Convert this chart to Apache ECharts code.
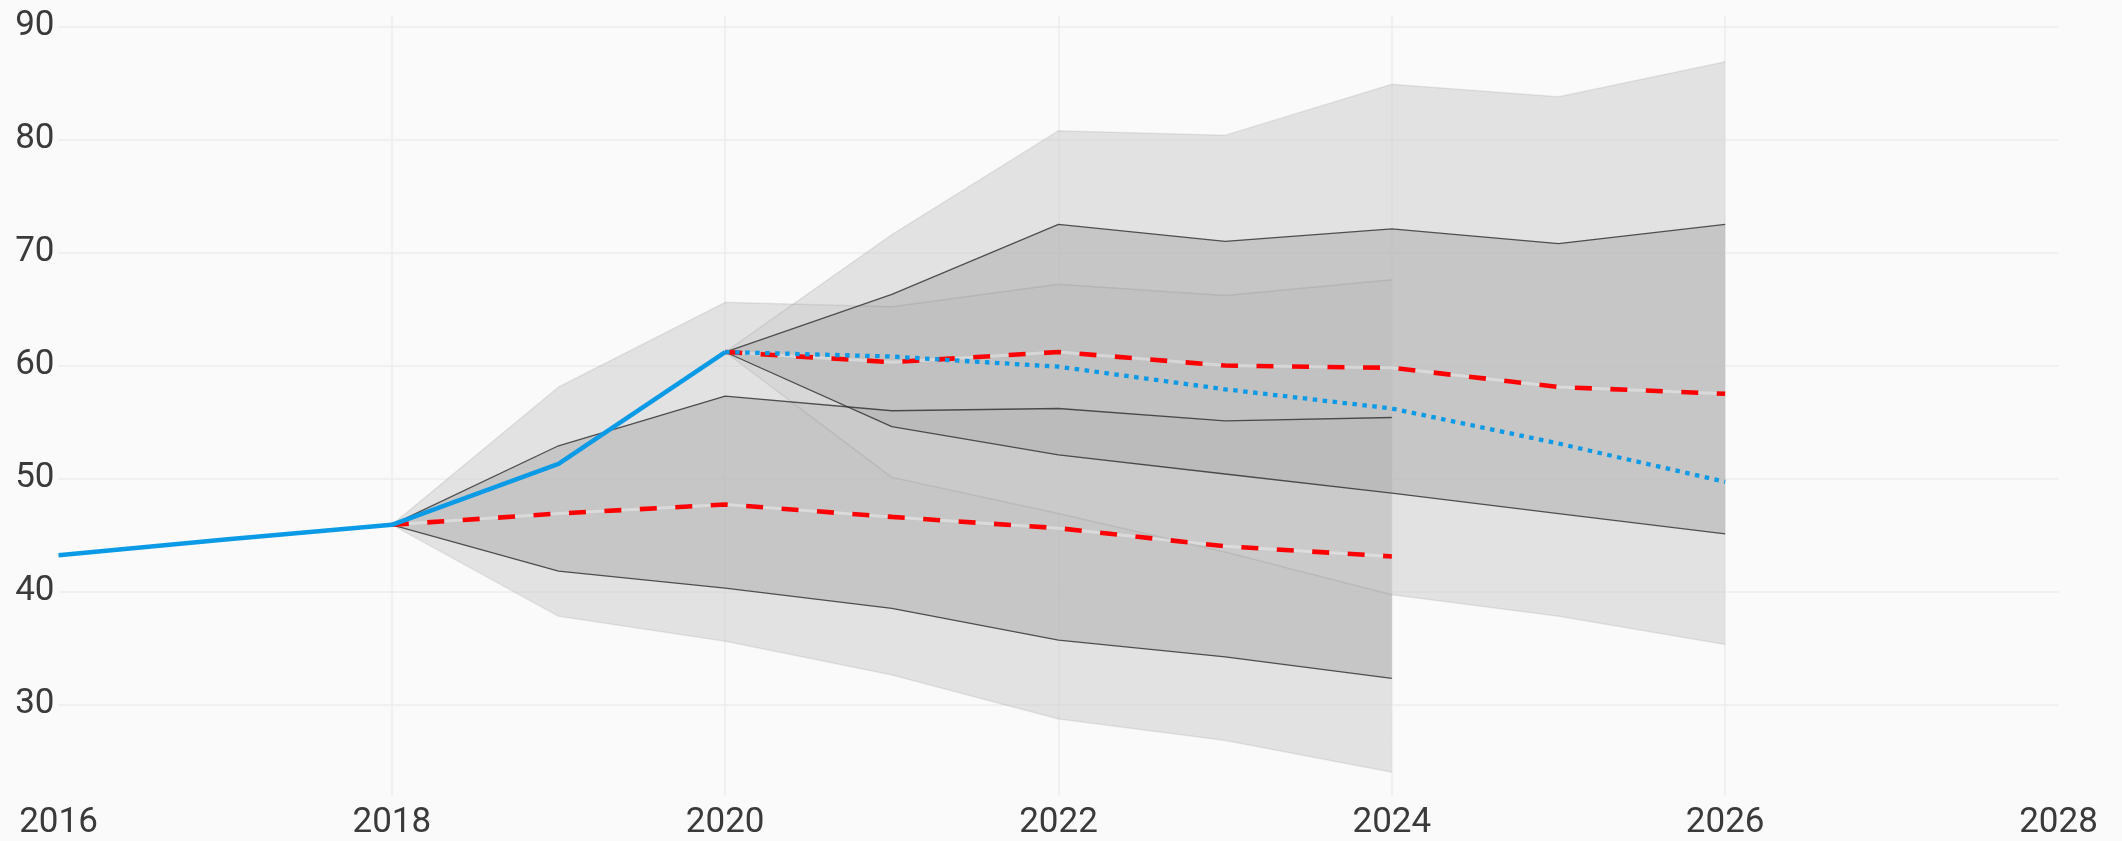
<!DOCTYPE html>
<html>
<head>
<meta charset="utf-8">
<script src="https://cdn.jsdelivr.net/npm/echarts@6/dist/echarts.min.js"></script>
<style>
  html, body { margin: 0; padding: 0; background: #fafafa; }
  #chart { width: 2122px; height: 841px; }
</style>
</head>
<body>
<div id="chart"></div>
<script>
// Observed history
const actualYears = [2016, 2017, 2018, 2019, 2020];
const actualValues = [43.2, 44.6, 45.9, 51.3, 61.2];

// Projection issued in 2018
const projAYears   = [2018, 2019, 2020, 2021, 2022, 2023, 2024];
const projAMedian  = [45.9, 46.9, 47.7, 46.6, 45.6, 44.0, 43.1];
const projAInnerHi = [45.9, 52.9, 57.3, 56.0, 56.2, 55.1, 55.4];
const projAInnerLo = [45.9, 41.8, 40.3, 38.5, 35.7, 34.2, 32.3];
const projAOuterHi = [45.9, 58.1, 65.6, 65.2, 67.2, 66.2, 67.6];
const projAOuterLo = [45.9, 37.8, 35.6, 32.6, 28.7, 26.8, 24.0];

// Projection issued in 2020
const projBYears   = [2020, 2021, 2022, 2023, 2024, 2025, 2026];
const projBMedian  = [61.2, 60.3, 61.2, 60.0, 59.8, 58.1, 57.5];
const projBPath    = [61.2, 60.8, 59.9, 57.9, 56.2, 53.1, 49.7];
const projBInnerHi = [61.2, 66.3, 72.5, 71.0, 72.1, 70.8, 72.5];
const projBInnerLo = [61.2, 54.6, 52.1, 50.4, 48.7, 46.9, 45.1];
const projBOuterHi = [61.2, 71.6, 80.8, 80.4, 84.9, 83.8, 86.9];
const projBOuterLo = [61.2, 50.1, 46.9, 43.5, 39.7, 37.8, 35.3];

// Axis ticks
const xTicks = [2016, 2018, 2020, 2022, 2024, 2026, 2028];
const yTicks = [30, 40, 50, 60, 70, 80, 90];

const BLUE = '#0b9ae6';
const RED = '#ff0000';
const OUTER_FILL = 'rgba(206,206,206,0.55)';
const INNER_FILL = 'rgba(175,175,175,0.55)';
const INNER_EDGE = 'rgba(45,45,45,0.8)';
const OUTER_EDGE = 'rgba(0,0,0,0.07)';

const pairs = (xs, ys) => xs.map((x, i) => [x, ys[i]]);

function band(xs, lo, hi, fill) {
  return {
    type: 'custom',
    silent: true,
    data: [[xs[0], lo[0]]],
    renderItem: (params, api) => {
      const pts = xs.map((x, i) => api.coord([x, hi[i]]));
      for (let i = xs.length - 1; i >= 0; i--) pts.push(api.coord([xs[i], lo[i]]));
      return { type: 'polygon', shape: { points: pts }, style: { fill: fill } };
    }
  };
}

function line(xs, ys, style) {
  return {
    type: 'line',
    silent: true,
    showSymbol: false,
    symbol: 'none',
    data: pairs(xs, ys),
    lineStyle: style
  };
}

function projection(xs, median, innerHi, innerLo, outerHi, outerLo) {
  return [
    band(xs, outerLo, outerHi, OUTER_FILL),
    band(xs, innerLo, innerHi, INNER_FILL),
    line(xs, outerHi, { color: OUTER_EDGE, width: 1.5 }),
    line(xs, outerLo, { color: OUTER_EDGE, width: 1.5 }),
    line(xs, innerHi, { color: INNER_EDGE, width: 1.3 }),
    line(xs, innerLo, { color: INNER_EDGE, width: 1.3 }),
    line(xs, median, { color: 'rgba(255,255,255,0.35)', width: 3 }),
    line(xs, median, { color: RED, width: 4.6, type: [17, 18.5] })
  ];
}

const chart = echarts.init(document.getElementById('chart'), null, { renderer: 'canvas' });

chart.setOption({
  backgroundColor: '#fafafa',
  animation: false,
  grid: { left: 58.5, right: 63.5, top: 16, bottom: 44, containLabel: false },
  xAxis: {
    type: 'value',
    min: 2016,
    max: 2028,
    interval: 2,
    axisLine: { show: false },
    axisTick: { show: false },
    axisLabel: {
      margin: 10,
      color: '#3a3a3a',
      fontFamily: 'Roboto',
      fontSize: 35,
      formatter: v => String(v)
    },
    splitLine: {
      show: true,
      showMinLine: false,
      showMaxLine: false,
      lineStyle: { color: '#ececec', width: 1.5 }
    }
  },
  yAxis: {
    type: 'value',
    min: 21.89,
    max: 90.95,
    axisLine: { show: false },
    axisTick: { show: false, customValues: yTicks },
    axisLabel: {
      customValues: yTicks,
      margin: 4,
      color: '#3a3a3a',
      fontFamily: 'Roboto',
      fontSize: 35
    },
    splitLine: { show: true, lineStyle: { color: '#ececec', width: 1.5 } }
  },
  series: [
    ...projection(projAYears, projAMedian, projAInnerHi, projAInnerLo, projAOuterHi, projAOuterLo),
    ...projection(projBYears, projBMedian, projBInnerHi, projBInnerLo, projBOuterHi, projBOuterLo),
    line(projBYears, projBPath, { color: BLUE, width: 4.3, type: [4.5, 5.5] }),
    line(actualYears, actualValues, { color: BLUE, width: 4.5 })
  ]
});
</script>
</body>
</html>
